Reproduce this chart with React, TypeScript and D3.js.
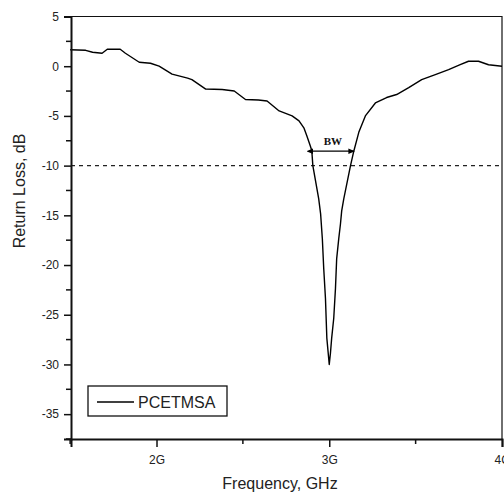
import React, { useEffect, useRef } from 'react';
import * as d3 from 'd3';

const freq = [
  1.5, 1.59, 1.63, 1.685, 1.715, 1.79, 1.82, 1.9, 1.965, 2.015, 2.09, 2.18, 2.205,
  2.285, 2.38, 2.45, 2.515, 2.59, 2.64, 2.71, 2.785, 2.825, 2.853, 2.87, 2.89, 2.899,
  2.905, 2.939, 2.95, 2.96, 2.968, 2.978, 2.986, 3.0, 3.007, 3.014, 3.026, 3.036,
  3.043, 3.055, 3.065, 3.072, 3.084, 3.123, 3.142, 3.171, 3.209, 3.267, 3.332, 3.39,
  3.46, 3.535, 3.614, 3.691, 3.758, 3.806, 3.864, 3.922, 4.0,
];
const returnLoss = [
  1.65, 1.6, 1.4, 1.3, 1.7, 1.7, 1.3, 0.4, 0.3, 0.0, -0.8, -1.2, -1.35,
  -2.3, -2.35, -2.5, -3.35, -3.4, -3.5, -4.5, -5.0, -5.5, -6.2, -7.0, -8.0, -8.5,
  -10.0, -13.35, -14.85, -17.35, -20.35, -23.35, -27.35, -30.0, -28.85, -27.35, -25.35, -22.35,
  -19.35, -17.35, -15.85, -14.55, -13.35, -10.0, -8.55, -6.65, -5.0, -3.7, -3.15, -2.85,
  -2.15, -1.35, -0.85, -0.35, 0.15, 0.5, 0.5, 0.15, 0.0,
];

const yTicks = [5, 0, -5, -10, -15, -20, -25, -30, -35];
const yMinorTicks = [2.5, -2.5, -7.5, -12.5, -17.5, -22.5, -27.5, -32.5, -37.5];
const xTicks = [2, 3, 4];
const xTickLabels = ['2G', '3G', '4G'];
const xMinorTicks = [1.5, 2.5, 3.5];

const threshold = -10;
const bwEdges = [2.9, 3.142];
const bwLevel = -8.55;
const seriesName = 'PCETMSA';

const W = 504;
const H = 493;
const margin = { top: 16.5, right: 2, bottom: 54, left: 71 };

const App = () => {
  const svgRef = useRef<SVGSVGElement>(null);

  useEffect(() => {
    const svg = d3.select(svgRef.current);
    svg.selectAll('*').remove();

    const x = d3.scaleLinear().domain([1.505, 4]).range([margin.left, W - margin.right]);
    const y = d3.scaleLinear().domain([-37.5, 5]).range([H - margin.bottom, margin.top]);
    const font = 'Arial, "Liberation Sans", sans-serif';

    const defs = svg.append('defs');
    ['start', 'end'].forEach((k) => {
      defs
        .append('marker')
        .attr('id', `arrow-${k}`)
        .attr('viewBox', '0 0 6 6')
        .attr('refX', k === 'end' ? 5 : 1)
        .attr('refY', 3)
        .attr('markerWidth', 5)
        .attr('markerHeight', 5)
        .attr('orient', 'auto-start-reverse')
        .append('path')
        .attr('d', 'M0,0.5 L6,3 L0,5.5 Z')
        .attr('fill', '#000');
    });

    // frame (top / right)
    svg
      .append('path')
      .attr('d', `M${x(1.505)},${y(5)}H${x(4)}V${y(-37.5)}`)
      .attr('fill', 'none')
      .attr('stroke', '#111')
      .attr('stroke-width', 1.2);

    // -10 dB threshold line
    svg
      .append('line')
      .attr('x1', x(1.505))
      .attr('x2', x(4))
      .attr('y1', y(threshold))
      .attr('y2', y(threshold))
      .attr('stroke', '#222')
      .attr('stroke-width', 1.3)
      .attr('stroke-dasharray', '4,4');

    // curve
    const line = d3
      .line<number>()
      .x((_, i) => x(freq[i]))
      .y((d) => y(d));
    svg
      .append('path')
      .datum(returnLoss)
      .attr('d', line)
      .attr('fill', 'none')
      .attr('stroke', '#000')
      .attr('stroke-width', 1.4)
      .attr('stroke-linejoin', 'round');

    // BW annotation
    svg
      .append('line')
      .attr('x1', x(bwEdges[0]))
      .attr('x2', x(bwEdges[1]))
      .attr('y1', y(bwLevel))
      .attr('y2', y(bwLevel))
      .attr('stroke', '#000')
      .attr('stroke-width', 1.3)
      .attr('marker-start', 'url(#arrow-start)')
      .attr('marker-end', 'url(#arrow-end)');
    svg
      .append('text')
      .attr('x', x((bwEdges[0] + bwEdges[1]) / 2))
      .attr('y', y(bwLevel) - 6)
      .attr('text-anchor', 'middle')
      .attr('font-family', '"Liberation Serif", "Times New Roman", serif')
      .attr('font-weight', 'bold')
      .attr('font-size', 11)
      .attr('fill', '#111')
      .text('BW');

    // y axis
    const yAxis = svg.append('g').attr('transform', `translate(${margin.left},0)`);
    yAxis
      .call(
        d3
          .axisLeft(y)
          .tickValues(yTicks)
          .tickSize(7)
          .tickPadding(5)
          .tickFormat((d) => String(d))
      )
      .call((g) => g.select('.domain').attr('stroke-width', 2).attr('stroke', '#111'))
      .call((g) => g.selectAll('.tick line').attr('stroke-width', 1.5).attr('stroke', '#111'))
      .call((g) =>
        g
          .selectAll('.tick text')
          .attr('font-family', font)
          .attr('font-size', 12)
          .attr('fill', '#222')
      );
    yAxis
      .selectAll('.minor')
      .data(yMinorTicks)
      .enter()
      .append('line')
      .attr('x1', -5)
      .attr('x2', 0)
      .attr('y1', (d) => y(d))
      .attr('y2', (d) => y(d))
      .attr('stroke', '#111')
      .attr('stroke-width', 1.5);

    // x axis
    const xAxis = svg.append('g').attr('transform', `translate(0,${H - margin.bottom})`);
    xAxis
      .call(
        d3
          .axisBottom(x)
          .tickValues(xTicks)
          .tickSize(8)
          .tickPadding(8)
          .tickFormat((_, i) => xTickLabels[i])
      )
      .call((g) => g.select('.domain').attr('stroke-width', 2).attr('stroke', '#111'))
      .call((g) => g.selectAll('.tick line').attr('stroke-width', 1.5).attr('stroke', '#111'))
      .call((g) =>
        g
          .selectAll('.tick text')
          .attr('font-family', font)
          .attr('font-size', 12)
          .attr('fill', '#222')
      );
    xAxis
      .selectAll('.minor')
      .data(xMinorTicks)
      .enter()
      .append('line')
      .attr('x1', (d) => x(d))
      .attr('x2', (d) => x(d))
      .attr('y1', 0)
      .attr('y2', 5)
      .attr('stroke', '#111')
      .attr('stroke-width', 1.5);

    // axis titles
    svg
      .append('text')
      .attr('x', 280)
      .attr('y', 489)
      .attr('text-anchor', 'middle')
      .attr('font-family', font)
      .attr('font-size', 16)
      .attr('fill', '#222')
      .text('Frequency, GHz');
    svg
      .append('text')
      .attr('transform', `translate(25,${191}) rotate(-90)`)
      .attr('text-anchor', 'middle')
      .attr('font-family', font)
      .attr('font-size', 16)
      .attr('fill', '#222')
      .text('Return Loss, dB');

    // legend
    const lg = svg.append('g').attr('transform', 'translate(88,386)');
    lg.append('rect')
      .attr('width', 139)
      .attr('height', 30)
      .attr('fill', '#fff')
      .attr('stroke', '#111')
      .attr('stroke-width', 1.3);
    lg.append('line')
      .attr('x1', 9)
      .attr('x2', 46)
      .attr('y1', 16)
      .attr('y2', 16)
      .attr('stroke', '#000')
      .attr('stroke-width', 1.4);
    lg.append('text')
      .attr('x', 50)
      .attr('y', 21.5)
      .attr('font-family', font)
      .attr('font-size', 16)
      .attr('fill', '#222')
      .text(seriesName);
  }, []);

  return (
    <svg
      ref={svgRef}
      width={W}
      height={H}
      style={{ position: 'absolute', left: 0, top: 0, background: '#fff' }}
    />
  );
};

export default App;
